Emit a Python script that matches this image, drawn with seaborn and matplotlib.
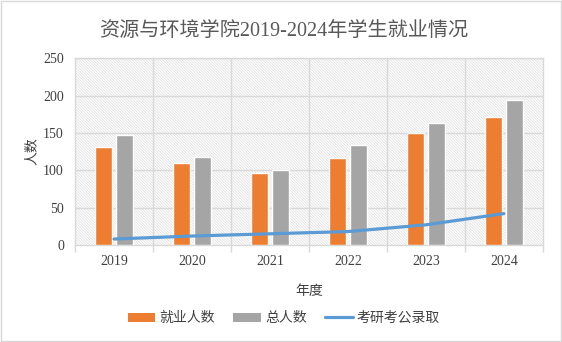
import numpy as np
import pandas as pd
import matplotlib
matplotlib.use("Agg")
import matplotlib.pyplot as plt
from matplotlib.patches import Rectangle, Patch
from matplotlib.lines import Line2D
import seaborn as sns

years = ["2019", "2020", "2021", "2022", "2023", "2024"]
employed = [131, 110, 96, 117, 150, 171]
total = [147, 118, 100, 134, 163, 194]
grad_civil = [8, 12, 15, 18, 27, 42]
series_names = ["就业人数", "总人数", "考研考公录取"]
title = "资源与环境学院2019-2024年学生就业情况"

sns.set_theme(style="white")
plt.rcParams["font.family"] = ["Liberation Serif", "Noto Sans CJK SC", "DejaVu Sans"]
plt.rcParams["hatch.linewidth"] = 0.5
plt.rcParams["hatch.color"] = "#dcdcdc"

df = pd.DataFrame({
    "year": years * 2,
    "value": employed + total,
    "series": [series_names[0]] * len(years) + [series_names[1]] * len(years),
})

fig = plt.figure(figsize=(5.62, 3.42), dpi=100)
ax = fig.add_axes([0.1335, 0.2836, 0.966 - 0.1335, 0.830 - 0.2836])

# hatched plot-area background
ax.add_patch(Rectangle((0, 0), 1, 1, transform=ax.transAxes, facecolor="white",
                       edgecolor="#dcdcdc", hatch="\\" * 12, linewidth=0, zorder=0))

sns.barplot(data=df, x="year", y="value", hue="series",
            palette=["#ED7D31", "#A5A5A5"], width=0.54, gap=0.22,
            saturation=1, ax=ax, zorder=3, legend=False)

sns.lineplot(x=np.arange(len(years)), y=grad_civil, ax=ax, color="#5B9BD5",
             linewidth=2.3, zorder=4, label=series_names[2], legend=False)

ax.set_xlim(-0.5, len(years) - 0.5)
ax.set_ylim(0, 250)
ax.set_yticks(range(0, 251, 50))
ax.set_xticks(range(len(years)))
ax.set_xticklabels(years)
ax.set_xticks(np.arange(-0.5, len(years), 1.0), minor=True)

ax.grid(False)
for y in range(50, 251, 50):
    ax.axhline(y, color="#d9d9d9", linewidth=1.0, zorder=1)
for x in np.arange(0.5, len(years) - 0.5, 1.0):
    ax.axvline(x, color="#d9d9d9", linewidth=1.0, zorder=1)

for side in ["top", "right", "left", "bottom"]:
    ax.spines[side].set_visible(True)
    ax.spines[side].set_color("#d9d9d9")
    ax.spines[side].set_linewidth(1.0)

ax.tick_params(axis="x", which="major", length=0, pad=7, labelsize=10, labelcolor="#404040")
ax.tick_params(axis="x", which="minor", length=5, width=1.0, color="#d9d9d9", direction="out", bottom=True)
ax.tick_params(axis="y", length=0, pad=8, labelsize=10, labelcolor="#404040")

ax.set_xlabel("年度", fontsize=10, color="#404040", labelpad=12,
              family=["Noto Sans CJK SC"])
ax.set_ylabel("人数", fontsize=10, color="#404040", labelpad=3,
              family=["Noto Sans CJK SC"])

fig.text(0.505, 0.907, title, ha="center", va="center", fontsize=14.5,
         color="#595959", family=["Liberation Serif", "Noto Sans CJK SC"])

handles = [Patch(facecolor="#ED7D31", edgecolor="none"),
           Patch(facecolor="#A5A5A5", edgecolor="none"),
           Line2D([0], [0], color="#5B9BD5", linewidth=2.3)]
fig.legend(handles, series_names, loc="center", bbox_to_anchor=(0.505, 0.07),
           ncol=3, frameon=False, handlelength=2.0, handleheight=0.6,
           columnspacing=1.3, handletextpad=0.3,
           prop={"family": ["Noto Sans CJK SC"], "size": 10},
           labelcolor="#404040")

fig.add_artist(Rectangle((0.002, 0.003), 0.996, 0.994, transform=fig.transFigure,
                         fill=False, edgecolor="#d9d9d9", linewidth=1.0))

fig.savefig("out.png", dpi=100)
